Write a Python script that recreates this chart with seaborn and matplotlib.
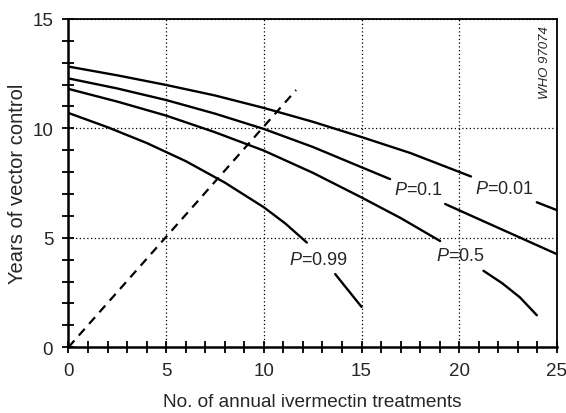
"""
Years of vector control vs number of annual ivermectin treatments,
one curve per probability P, redrawn with seaborn.
"""

import pandas as pd
import matplotlib
matplotlib.use("Agg")
import matplotlib.pyplot as plt
import seaborn as sns
from matplotlib.ticker import MultipleLocator

sns.set_style("ticks")
plt.rcParams['font.family'] = ['Liberation Sans', 'DejaVu Sans']
plt.rcParams['mathtext.fontset'] = 'custom'
plt.rcParams['mathtext.it'] = 'Liberation Sans:italic'

# curves, each split in two where the label sits
p001_x1 = [0, 2.5, 5, 7.5, 10, 12.5, 15, 17.5, 20.6]
p001_y1 = [12.82, 12.42, 11.98, 11.5, 10.93, 10.3, 9.6, 8.87, 7.8]
p001_x2 = [23.97, 25]
p001_y2 = [6.62, 6.26]

p01_x1 = [0, 2.5, 5, 7.5, 10, 12.5, 15, 16.46]
p01_y1 = [12.28, 11.82, 11.29, 10.67, 9.97, 9.15, 8.22, 7.68]
p01_x2 = [19.28, 22, 25]
p01_y2 = [6.54, 5.45, 4.25]

p05_x1 = [0, 2.5, 5, 7.5, 10, 12.5, 15, 17, 19.02]
p05_y1 = [11.8, 11.22, 10.58, 9.82, 8.98, 7.97, 6.84, 5.9, 4.85]
p05_x2 = [21.24, 22.2, 23.1, 23.97]
p05_y2 = [3.49, 2.92, 2.28, 1.46]

p099_x1 = [0, 2, 4, 6, 8, 10, 11.1, 12.2]
p099_y1 = [10.7, 10.05, 9.33, 8.5, 7.52, 6.39, 5.65, 4.78]
p099_x2 = [13.65, 15.0]
p099_y2 = [3.34, 1.84]

curve_labels = ['0.01', '0.1', '0.5', '0.99']
label_x = [22.3, 17.9, 20.05, 12.78]
label_y = [7.27, 7.22, 4.17, 4.02]

diag_x = [0, 11.65]
diag_y = [0, 11.75]

segments = [
    ('0.01', 1, p001_x1, p001_y1), ('0.01', 2, p001_x2, p001_y2),
    ('0.1', 1, p01_x1, p01_y1), ('0.1', 2, p01_x2, p01_y2),
    ('0.5', 1, p05_x1, p05_y1), ('0.5', 2, p05_x2, p05_y2),
    ('0.99', 1, p099_x1, p099_y1), ('0.99', 2, p099_x2, p099_y2),
]
rows = []
for p, seg, xs, ys in segments:
    for x, y in zip(xs, ys):
        rows.append({'P': p, 'seg': f'{p}-{seg}', 'x': x, 'y': y})
data = pd.DataFrame(rows)

fig, ax = plt.subplots(figsize=(5.66, 4.14), dpi=100)
fig.subplots_adjust(left=0.121, right=0.984, top=0.952, bottom=0.159)

sns.lineplot(data=data, x='x', y='y', units='seg', estimator=None,
             color='black', linewidth=1.7, sort=False, ax=ax)
sns.lineplot(x=diag_x, y=diag_y, color='black', linewidth=1.6,
             linestyle=(0, (4, 3)), ax=ax)

for lab, lx, ly in zip(curve_labels, label_x, label_y):
    ax.text(lx, ly, f'$P$={lab}', fontsize=13, ha='center', va='center')

ax.text(24.4, 13.03, 'WHO 97074', fontsize=9.5, style='italic',
        rotation=90, ha='center', va='center')

ax.set_xlim(0, 25)
ax.set_ylim(0, 15)
ax.xaxis.set_major_locator(MultipleLocator(5))
ax.yaxis.set_major_locator(MultipleLocator(5))
ax.xaxis.set_minor_locator(MultipleLocator(1))
ax.yaxis.set_minor_locator(MultipleLocator(1))
ax.tick_params(which='both', direction='inout', length=8, width=1.3,
               labelsize=13.5, color='black')
ax.tick_params(axis='x', pad=7)
ax.tick_params(axis='y', pad=7)

ax.grid(True, which='major', color='black', linestyle=(0, (1, 2)), linewidth=0.9)

for side in ['left', 'bottom']:
    ax.spines[side].set_linewidth(1.8)
for side in ['top', 'right']:
    ax.spines[side].set_linewidth(1.3)
    ax.spines[side].set_visible(True)
for sp in ax.spines.values():
    sp.set_color('black')

ax.set_xlabel('No. of annual ivermectin treatments', fontsize=13.7, labelpad=10)
ax.set_ylabel('Years of vector control', fontsize=14.5, labelpad=4)

plt.savefig('out.png', dpi=100)
plt.close()
